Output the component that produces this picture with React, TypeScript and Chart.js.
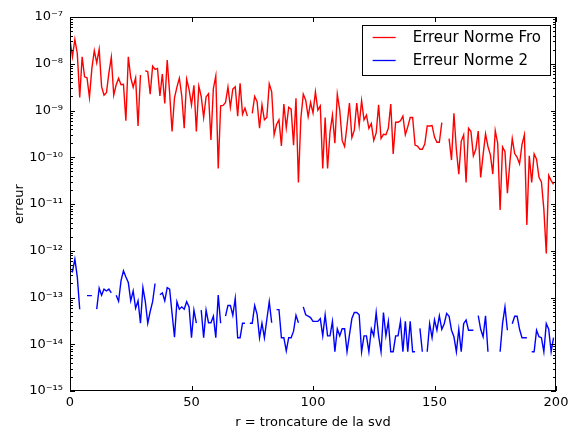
import { useEffect, useRef } from 'react';
import { Chart, registerables } from 'chart.js';

Chart.register(...registerables);

// truncation rank r (x axis)
const rankR: number[] = Array.from({ length: 200 }, (_, i) => i);

// log10 of "Erreur Norme Fro" (null = no value / gap)
const froLog10: (number | null)[] = [
  -7.49, -7.85, -7.48, -7.78, -8.72, -7.85, -8.28, -8.3, -8.72, -8.1,
  -7.72, -7.98, -7.69, -8.49, -8.67, -8.62, -8.2, -7.86, -8.67, -8.45,
  -8.31, -8.45, -8.44, -9.22, -7.85, -8.3, -8.5, -8.3, -9.33, -8.24,
  null, -8.15, -8.17, -8.65, -8.05, -8.12, -8.1, -8.69, -8.22, -8.85,
  -7.92, -8.62, -9.45, -8.73, -8.5, -8.31, -8.69, -9.38, -8.33, -8.55,
  -8.88, -8.46, -9.45, -8.48, -8.7, -9.15, -8.71, -8.64, -9.63, -8.53,
  -8.26, -10.24, -8.9, -8.89, -8.83, -8.5, -8.93, -8.54, -8.49, -9.12,
  -8.42, -9.08, -8.95, -9.12, null, -9.06, -8.7, -8.81, -9.38, -8.88,
  -9.2, -9.15, -8.43, -8.6, -9.52, -9.3, -9.2, -9.76, -8.86, -9.37,
  -8.93, -8.97, -9.74, -8.74, -10.54, -9.17, -8.65, -8.78, -9.13, -8.83,
  -9.05, -8.6, -8.99, -8.9, -10.24, -9.15, -10.24, -9.46, -9.1, -9.7,
  -8.65, -8.99, -9.64, -9.77, -9.32, -8.84, -9.58, -9.42, -8.84, -9.32,
  -8.79, -9.2, -9.1, -9.38, -9.28, -9.64, -9.48, -8.88, -9.6, -9.51,
  -9.52, -9.38, -8.86, -9.93, -9.25, -9.25, -9.22, -9.12, -9.52, -9.35,
  -9.15, -9.15, -9.74, -9.76, -9.83, -9.83, -9.72, -9.33, -9.33, -9.32,
  -9.57, -9.68, -9.68, -9.26, null, null, -9.6, -10.06, -9.06, -9.84,
  -10.36, -9.66, -9.52, -10.54, -9.38, -9.45, -9.97, -9.83, -9.44, -10.43,
  -9.95, -9.5, -9.77, -9.95, -10.36, -9.43, -9.7, -11.13, -9.78, -9.88,
  -10.77, -10.12, -9.6, -9.92, -10.0, -10.14, -9.73, -9.52, -11.45, -9.97,
  -10.54, -9.93, -10.04, -10.43, -10.53, -11.11, -12.06, -10.39, -10.5, -10.58,
];

// log10 of "Erreur Norme 2" (null = gap)
const norm2Log10: (number | null)[] = [
  -12.43, -12.45, -12.18, -12.56, -13.25, null, null, -12.96, -12.96, -12.96,
  null, -13.25, -12.8, -12.95, -12.82, -12.86, -12.82, -12.9, null, -12.95,
  -13.08, -12.64, -12.43, -12.56, -12.68, -13.07, -12.86, -13.23, -13.07, -13.55,
  -12.79, -13.09, -13.55, -13.3, -13.09, -12.7, null, -12.94, -12.9, -13.07,
  -12.79, -12.82, -13.34, -13.85, -13.09, -13.25, -13.2, -13.25, -13.09, -13.2,
  -13.86, -13.27, -13.55, null, -13.27, -13.86, -13.27, -13.54, -13.54, -13.4,
  -13.86, -12.95, -13.55, null, -13.4, -13.17, -13.17, -13.38, -13.02, -13.86,
  -13.86, -13.55, -13.55, null, -13.55, -13.55, -13.17, -13.36, -13.86, -13.55,
  -13.86, -13.47, -13.09, -13.54, null, -13.26, -13.26, -13.86, -13.86, -14.14,
  -13.86, -13.86, -13.72, -13.38, -13.54, null, -13.2, -13.37, -13.4, -13.43,
  -13.51, -13.51, -13.51, -13.45, -13.82, -13.37, -13.82, -13.82, -13.51, -14.16,
  -13.67, -13.82, -13.67, -13.67, -14.16, -13.8, -13.45, -13.32, -13.32, -13.37,
  -14.16, -13.82, -13.82, -14.16, -13.67, -13.82, -13.32, -13.82, -14.16, -13.32,
  -13.82, -13.51, -14.16, -14.16, -13.82, -13.82, -13.51, -14.16, -13.51, -14.16,
  -13.51, -14.16, -14.16, null, -13.66, -14.16, null, -14.16, -13.56, -13.86,
  -13.48, -13.7, -13.39, -13.68, -13.56, -13.34, -13.4, -13.7, -13.84, -14.16,
  -13.68, -14.16, -13.56, -13.48, -13.7, -13.7, -13.7, null, -13.39, -13.68,
  -13.84, -13.39, -14.16, null, null, null, null, -14.16, -13.56, -13.2,
  -13.7, null, -13.56, -13.4, -13.4, -13.68, -13.86, -13.86, -13.86, null,
  -14.16, -14.16, -13.7, -13.84, -13.86, -14.16, -13.56, -13.68, -14.16, -13.86,
];

const seriesLabels = ['Erreur Norme Fro', 'Erreur Norme 2'];
const seriesColors = ['#ff0000', '#0000ff'];

const xTickValues = [0, 50, 100, 150, 200];
const yTickExponents = [-15, -14, -13, -12, -11, -10, -9, -8, -7];
const yTickLabels = ['10⁻¹⁵', '10⁻¹⁴', '10⁻¹³', '10⁻¹²', '10⁻¹¹', '10⁻¹⁰', '10⁻⁹', '10⁻⁸', '10⁻⁷'];

const FONT = 'DejaVu Sans';

const framePlugin = {
  id: 'mplFrame',
  afterDatasetsDraw(chart: any) {
    const { ctx, chartArea: a, scales } = chart;
    const x = scales.x;
    const y = scales.y;
    ctx.save();
    ctx.strokeStyle = '#000';
    ctx.lineWidth = 1;
    ctx.beginPath();
    const major = 5;
    const minor = 3;
    for (let i = 0; i < yTickExponents.length; i++) {
      const e = yTickExponents[i];
      const p = Math.round(y.getPixelForValue(Math.pow(10, e))) + 0.5;
      ctx.moveTo(a.left, p);
      ctx.lineTo(a.left + major, p);
      ctx.moveTo(a.right, p);
      ctx.lineTo(a.right - major, p);
      if (i < yTickExponents.length - 1) {
        for (let k = 2; k <= 9; k++) {
          const q = Math.round(y.getPixelForValue(k * Math.pow(10, e))) + 0.5;
          ctx.moveTo(a.left, q);
          ctx.lineTo(a.left + minor, q);
          ctx.moveTo(a.right, q);
          ctx.lineTo(a.right - minor, q);
        }
      }
    }
    for (const v of xTickValues) {
      const p = Math.round(x.getPixelForValue(v)) + 0.5;
      ctx.moveTo(p, a.bottom);
      ctx.lineTo(p, a.bottom - major);
      ctx.moveTo(p, a.top);
      ctx.lineTo(p, a.top + major);
    }
    ctx.stroke();
    ctx.strokeRect(a.left + 0.5, a.top + 0.5, a.right - a.left - 1, a.bottom - a.top - 1);
    ctx.restore();
  },
  afterDraw(chart: any) {
    const { ctx, chartArea: a } = chart;
    const ds = chart.data.datasets;
    ctx.save();
    ctx.font = `15px "${FONT}"`;
    let maxW = 0;
    for (const d of ds) maxW = Math.max(maxW, ctx.measureText(d.label).width);
    const w = 51 + maxW + 9;
    const h = 50;
    const right = a.right - 6;
    const top = a.top + 8;
    const left = right - w;
    ctx.fillStyle = '#fff';
    ctx.fillRect(left, top, w, h);
    ctx.strokeStyle = '#000';
    ctx.lineWidth = 1;
    ctx.strokeRect(Math.round(left) + 0.5, top + 0.5, Math.round(w), h);
    ds.forEach((d: any, i: number) => {
      const yy = top + 12.5 + i * 23;
      ctx.strokeStyle = d.borderColor;
      ctx.lineWidth = 1.3;
      ctx.beginPath();
      ctx.moveTo(left + 11, yy);
      ctx.lineTo(left + 34, yy);
      ctx.stroke();
      ctx.fillStyle = '#000';
      ctx.textBaseline = 'middle';
      ctx.textAlign = 'left';
      ctx.fillText(d.label, left + 51, yy + 1);
    });
    ctx.restore();
  },
};

export default function App() {
  const canvasRef = useRef<HTMLCanvasElement | null>(null);

  useEffect(() => {
    const canvas = canvasRef.current;
    if (!canvas) return;
    Chart.defaults.font.family = FONT;
    Chart.defaults.color = '#000';

    const toPoints = (arr: (number | null)[]) =>
      arr.map((v, i) => ({ x: rankR[i], y: v === null ? null : Math.pow(10, v) }));

    const chart = new Chart(canvas, {
      type: 'line',
      data: {
        datasets: [
          {
            label: seriesLabels[0],
            data: toPoints(froLog10) as any,
            borderColor: seriesColors[0],
            backgroundColor: seriesColors[0],
            borderWidth: 1.4,
            pointRadius: 0,
            spanGaps: false,
            tension: 0,
          },
          {
            label: seriesLabels[1],
            data: toPoints(norm2Log10) as any,
            borderColor: seriesColors[1],
            backgroundColor: seriesColors[1],
            borderWidth: 1.4,
            pointRadius: 0,
            spanGaps: false,
            tension: 0,
          },
        ],
      },
      options: {
        animation: false,
        responsive: false,
        devicePixelRatio: 1,
        layout: { padding: { left: 0, top: 17, right: 12, bottom: 0 } },
        plugins: {
          legend: { display: false },
          tooltip: { enabled: false },
        },
        scales: {
          x: {
            type: 'linear',
            min: 0,
            max: 200,
            grid: { display: false, drawTicks: false },
            border: { display: false },
            afterBuildTicks: (s: any) => {
              s.ticks = xTickValues.map((v) => ({ value: v }));
            },
            afterFit: (s: any) => {
              s.height = 39;
              s.paddingLeft = 0;
              s.paddingRight = 0;
            },
            ticks: {
              autoSkip: false,
              maxRotation: 0,
              padding: 4,
              font: { size: 13, family: FONT },
              color: '#000',
              callback: (v: any) => String(v),
            },
            title: {
              display: true,
              text: 'r = troncature de la svd',
              font: { size: 13, family: FONT },
              color: '#000',
              padding: { top: 0, bottom: 0 },
            },
          },
          y: {
            type: 'logarithmic',
            min: 1e-15,
            max: 1e-7,
            grid: { display: false, drawTicks: false },
            border: { display: false },
            afterBuildTicks: (s: any) => {
              s.ticks = yTickExponents.map((e) => ({ value: Math.pow(10, e) }));
            },
            afterFit: (s: any) => {
              s.width = 70;
              s.paddingTop = 0;
              s.paddingBottom = 0;
            },
            ticks: {
              autoSkip: false,
              padding: 7,
              font: { size: 13, family: FONT },
              color: '#000',
              callback: (_v: any, i: number) => yTickLabels[i],
            },
            title: {
              display: true,
              text: 'erreur',
              font: { size: 13, family: FONT },
              color: '#000',
              padding: { top: 12, bottom: 0 },
            },
          },
        },
      },
      plugins: [framePlugin],
    });

    return () => chart.destroy();
  }, []);

  return (
    <div style={{ position: 'absolute', left: 0, top: 0, width: 568, height: 430, background: '#fff' }}>
      <canvas ref={canvasRef} width={568} height={430} />
    </div>
  );
}
